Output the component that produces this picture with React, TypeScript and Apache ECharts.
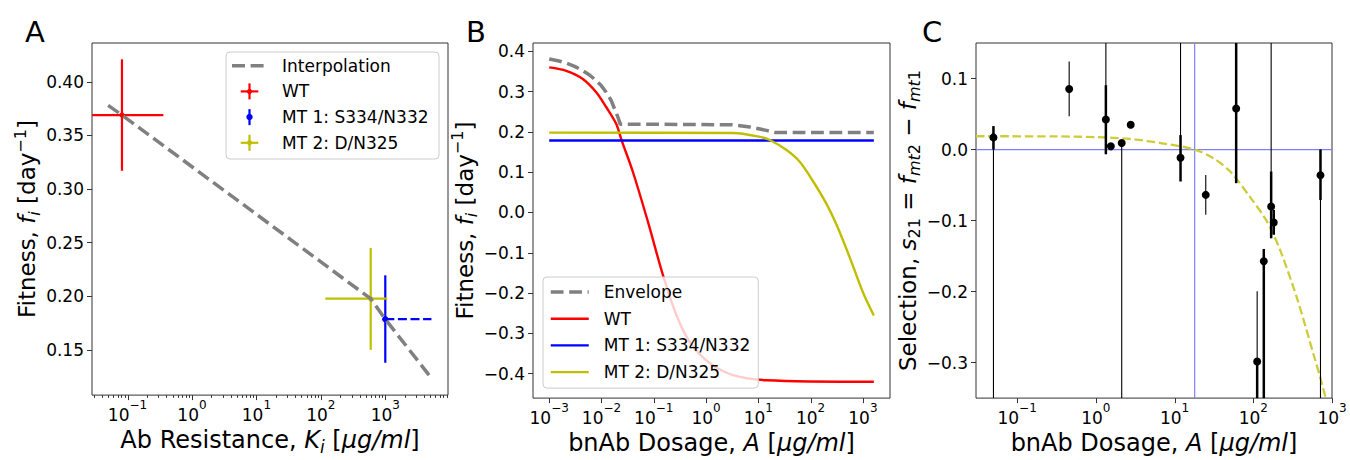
import React, { useEffect, useRef } from "react";
import * as echarts from "echarts";

const FONT = "DejaVu Sans";

// ---------------- Panel A data ----------------
const aNames = ["WT", "MT 1: S334/N332", "MT 2: D/N325"];
const aColors = ["#ff0000", "#0000ff", "#bfbf00"];
const aMarkerR = [2.6, 3.2, 2.6];
const aResistance = [0.082, 1000, 594];
const aFitness = [0.369, 0.1786, 0.1977];
const aResLow = [0.001, null, 117]; // WT lower error falls below the axis
const aResHigh = [0.36, null, 1075];
const aFitLow = [0.317, 0.138, 0.15];
const aFitHigh = [0.421, 0.2195, 0.245];
const aInterpRes = [0.05, 0.082, 594, 1000, 5300];
const aInterpFit = [0.378, 0.369, 0.1977, 0.1786, 0.123];
const aMt1BoundRes = [1000, 5200];
const aMt1BoundFit = [0.1786, 0.1786];
const aYTicks = [0.15, 0.2, 0.25, 0.3, 0.35, 0.4];
const aXTicks = [0.1, 1, 10, 100, 1000];

// ---------------- Panel B data ----------------
const bDoseEnv = [0.001, 0.001466, 0.00212, 0.00306, 0.0044, 0.00591, 0.00793, 0.00988, 0.0123, 0.01534, 0.01778, 0.0206, 0.0228, 3.2, 6.9, 14.3, 20.7, 1620];
const bFitEnv = [0.3811, 0.377, 0.3712, 0.363, 0.3523, 0.3416, 0.3276, 0.3152, 0.2988, 0.2782, 0.2576, 0.237, 0.2195, 0.218, 0.2123, 0.204, 0.199, 0.199];
const bDoseWT = [0.001, 0.00212, 0.0044, 0.00793, 0.0123, 0.0191, 0.0242, 0.0398, 0.077, 0.151, 0.273, 0.49, 1.1, 3.3, 14.3, 1620];
const bFitWT = [0.3605, 0.352, 0.3317, 0.2988, 0.262, 0.2205, 0.18, 0.1012, -0.0222, -0.157, -0.256, -0.322, -0.371, -0.404, -0.4165, -0.4205];
const bDoseMT1 = [0.001, 1620];
const bFitMT1 = [0.179, 0.179];
const bDoseMT2 = [0.001, 3.3, 10.7, 16.6, 34.6, 62, 112, 200, 312, 562, 1000, 1620];
const bFitMT2 = [0.1985, 0.1975, 0.188, 0.18, 0.155, 0.126, 0.077, 0.022, -0.03, -0.112, -0.198, -0.256];
const bYTicks = [-0.4, -0.3, -0.2, -0.1, 0, 0.1, 0.2, 0.3, 0.4];
const bXTicks = [0.001, 0.01, 0.1, 1, 10, 100, 1000];

// ---------------- Panel C data ----------------
const cDose = [0.05, 0.458, 1.34, 1.55, 2.13, 2.77, 11.9, 24.9, 60.6, 168.6, 182, 136, 112, 714];
const cSel = [0.0171, 0.0853, 0.0424, 0.0045, 0.0091, 0.0348, -0.0115, -0.0638, 0.0578, -0.0802, -0.1027, -0.1574, -0.2985, -0.0362];
const cThickLow = [0.0, null, -0.0067, null, null, null, -0.045, null, -0.0474, -0.125, -0.12, -0.6, -0.6, -0.071];
const cThickHigh = [0.033, null, 0.0905, null, null, null, 0.0203, null, 0.6, -0.031, -0.085, -0.14, -0.2985, 0.0];
const cThinLow = [-0.6, 0.047, 0.0424, null, -0.6, null, -0.0115, -0.092, null, -0.0802, null, null, -0.2985, -0.6];
const cThinHigh = [0.033, 0.124, 0.6, null, 0.0091, null, 0.6, -0.0358, null, 0.6, null, null, -0.1994, 0.0];
const cFitDose = [0.03, 0.3, 1, 2.76, 7.3, 18, 31.5, 51, 92.5, 136, 166, 222, 361, 588, 714, 840];
const cFitSel = [0.0187, 0.0185, 0.0175, 0.0148, 0.0084, 0.0, -0.0126, -0.031, -0.068, -0.094, -0.111, -0.143, -0.21, -0.29, -0.322, -0.352];
const cCrossDose = 18;
const cYTicks = [-0.3, -0.2, -0.1, 0, 0.1];
const cXTicks = [0.1, 1, 10, 100, 1000];

// ---------------- axis ranges ----------------
const aXMin = 0.0281, aXMax = 9400, aYMin = 0.1078, aYMax = 0.4362;
const bXMin = 0.00049, bXMax = 3300, bYMin = -0.461, bYMax = 0.421;
const cXMin = 0.03, cXMax = 1000, cYMin = -0.35, cYMax = 0.15;

const powLabel = (v: number) => {
  const e = Math.log10(v);
  const r = Math.round(e);
  if (Math.abs(e - r) > 1e-4) return "";
  return "{b|10}{s|" + String(r).replace("-", "\u2212") + "}";
};
const tickRich = {
  b: { fontSize: 17, fontFamily: FONT, color: "#000", lineHeight: 24, verticalAlign: "bottom" },
  s: { fontSize: 12, fontFamily: FONT, color: "#000", lineHeight: 13, verticalAlign: "top" },
};
const ok = (v: any) => v != null && !isNaN(v);

const nameRich = {
  t: { fontSize: 23, fontFamily: FONT, color: "#000", lineHeight: 30 },
  i: { fontSize: 23, fontFamily: FONT, fontStyle: "italic", color: "#000", lineHeight: 30 },
  sb: { fontSize: 16, fontFamily: FONT, fontStyle: "italic", color: "#000", verticalAlign: "bottom", lineHeight: 16 },
  sbn: { fontSize: 16, fontFamily: FONT, color: "#000", verticalAlign: "bottom", lineHeight: 16 },
  sp: { fontSize: 16, fontFamily: FONT, color: "#000", verticalAlign: "top", lineHeight: 16 },
};
const xNameRich = {
  t: { fontSize: 24, fontFamily: FONT, color: "#000", lineHeight: 30 },
  i: { fontSize: 24, fontFamily: FONT, fontStyle: "italic", color: "#000", lineHeight: 30 },
  sb: { fontSize: 17, fontFamily: FONT, fontStyle: "italic", color: "#000", verticalAlign: "bottom", lineHeight: 16 },
};

const FRAME = "#333333";

function xAxisLog(gi: number, min: number, max: number, name: string) {
  return {
    type: "log", logBase: 10, gridIndex: gi, min, max,
    name, nameLocation: "middle", nameGap: 24,
    nameTextStyle: { fontSize: 24, fontFamily: FONT, color: "#000", rich: xNameRich },
    axisLine: { show: false }, axisTick: { show: false },
    splitLine: { show: false }, minorTick: { show: false }, minorSplitLine: { show: false },
    axisLabel: { formatter: powLabel, rich: tickRich, fontSize: 17, fontFamily: FONT, color: "#000", margin: 4, showMinLabel: true, showMaxLabel: true },
  };
}
function yAxisVal(gi: number, min: number, max: number, ticks: number[], dec: number, name: string, gap: number) {
  return {
    type: "value", gridIndex: gi, min, max,
    name, nameLocation: "middle", nameGap: gap, nameRotate: 90,
    nameTextStyle: { fontSize: 23, fontFamily: FONT, color: "#000", rich: nameRich },
    axisLine: { show: false },
    axisTick: { show: true, inside: false, length: 5, customValues: ticks, lineStyle: { color: FRAME, width: 1 } },
    axisLabel: { customValues: ticks, formatter: (v: number) => v.toFixed(dec).replace("-", "\u2212"), fontSize: 17, fontFamily: FONT, color: "#000", margin: 8 },
    splitLine: { show: false },
  };
}

function tickSeries(name: string, idx: number, values: number[], yVal: number, len: number) {
  return {
    type: "custom", name, xAxisIndex: idx, yAxisIndex: idx, silent: true, z: 5,
    data: values.map((v) => [v, yVal]), encode: { x: 0, y: 1 },
    renderItem: (params: any, api: any) => {
      const cs = params.coordSys;
      const p = api.coord([api.value(0), api.value(1)]);
      const x = Math.round(p[0]) + 0.5;
      const yb = cs.y + cs.height;
      return { type: "line", shape: { x1: x, y1: yb, x2: x, y2: yb + len }, style: { stroke: FRAME, lineWidth: 1 } };
    },
  };
}

function buildOption() {
  const minorTicksA: number[] = [];
  for (let e = -2; e <= 3; e++) for (let m = 2; m <= 9; m++) {
    const v = m * Math.pow(10, e);
    if (v > aXMin && v < aXMax) minorTicksA.push(v);
  }

  const aErr = {
    type: "custom", name: "A error bars", xAxisIndex: 0, yAxisIndex: 0, silent: true, z: 2,
    data: aNames.map((_, i) => [aResistance[i], aFitness[i], aResLow[i], aResHigh[i], aFitLow[i], aFitHigh[i], i]),
    encode: { x: 0, y: 1 },
    renderItem: (params: any, api: any) => {
      const cs = params.coordSys;
      const cx = (v: number) => Math.max(cs.x, Math.min(cs.x + cs.width, v));
      const i = api.value(6);
      const color = aColors[i];
      const x = api.value(0), y = api.value(1);
      const c = api.coord([x, y]);
      const children: any[] = [];
      const xl = api.value(2), xh = api.value(3), yl = api.value(4), yh = api.value(5);
      if (ok(xl) && ok(xh)) {
        const p1 = api.coord([xl, y]), p2 = api.coord([xh, y]);
        children.push({ type: "line", shape: { x1: cx(p1[0]), y1: c[1], x2: cx(p2[0]), y2: c[1] }, style: { stroke: color, lineWidth: 2.2 } });
      }
      if (ok(yl) && ok(yh)) {
        const p1 = api.coord([x, yl]), p2 = api.coord([x, yh]);
        children.push({ type: "line", shape: { x1: c[0], y1: p1[1], x2: c[0], y2: p2[1] }, style: { stroke: color, lineWidth: 2.2 } });
      }
      children.push({ type: "circle", shape: { cx: c[0], cy: c[1], r: aMarkerR[i] }, style: { fill: color } });
      return { type: "group", children };
    },
  };

  const cErr = {
    type: "custom", name: "C error bars", xAxisIndex: 2, yAxisIndex: 2, silent: true, z: 4,
    data: cDose.map((d, i) => [d, cSel[i], cThickLow[i], cThickHigh[i], cThinLow[i], cThinHigh[i]]),
    encode: { x: 0, y: 1 },
    renderItem: (params: any, api: any) => {
      const cs = params.coordSys;
      const cy = (v: number) => Math.max(cs.y, Math.min(cs.y + cs.height, v));
      const x = api.value(0), y = api.value(1);
      const c = api.coord([x, y]);
      const children: any[] = [];
      const seg = (lo: number, hi: number, w: number) => {
        if (!ok(lo) || !ok(hi)) return;
        const p1 = api.coord([x, lo]), p2 = api.coord([x, hi]);
        children.push({ type: "line", shape: { x1: c[0], y1: cy(p1[1]), x2: c[0], y2: cy(p2[1]) }, style: { stroke: "#000", lineWidth: w } });
      };
      seg(api.value(4), api.value(5), 1.1);
      seg(api.value(2), api.value(3), 2.5);
      children.push({ type: "circle", shape: { cx: c[0], cy: c[1], r: 4 }, style: { fill: "#000" } });
      return { type: "group", children };
    },
  };

  const pairs = (xs: number[], ys: number[]) => xs.map((x, i) => [x, ys[i]]);

  // Legend for panel A drawn as graphic (error-bar handles)
  const legX = 226, legY = 52, rowY0 = 65.7, rowStep = 25.7;
  const aLegend: any[] = [
    { type: "rect", shape: { x: legX, y: legY, width: 213, height: 107, r: 4 }, style: { fill: "rgba(255,255,255,0.8)", stroke: "#cccccc", lineWidth: 1 }, z: 100 },
    { type: "line", shape: { x1: 232, y1: rowY0, x2: 264, y2: rowY0 }, style: { stroke: "#808080", lineWidth: 3.5, lineDash: [13, 5.6] }, z: 101 },
  ];
  const legTexts = ["Interpolation", ...aNames];
  legTexts.forEach((t, k) => {
    aLegend.push({ type: "text", x: 282, y: rowY0 + k * rowStep, style: { text: t, fontSize: 17, fontFamily: FONT, fill: "#000", align: "left", verticalAlign: "middle" }, z: 101 });
  });
  aNames.forEach((_, i) => {
    const yy = rowY0 + (i + 1) * rowStep;
    const col = aColors[i];
    if (i !== 1) aLegend.push({ type: "line", shape: { x1: 240.7, y1: yy, x2: 258.3, y2: yy }, style: { stroke: col, lineWidth: 2.2 }, z: 101 });
    aLegend.push({ type: "line", shape: { x1: 249.5, y1: yy - 8, x2: 249.5, y2: yy + 8 }, style: { stroke: col, lineWidth: 2.2 }, z: 101 });
    aLegend.push({ type: "circle", shape: { cx: 249.5, cy: yy, r: aMarkerR[i] }, style: { fill: col }, z: 101 });
  });

  const letters = [
    { type: "text", x: 35, y: 32, style: { text: "A", fontSize: 29, fontFamily: FONT, fill: "#000", align: "center", verticalAlign: "middle" } },
    { type: "text", x: 476, y: 32, style: { text: "B", fontSize: 29, fontFamily: FONT, fill: "#000", align: "center", verticalAlign: "middle" } },
    { type: "text", x: 932, y: 32, style: { text: "C", fontSize: 29, fontFamily: FONT, fill: "#000", align: "center", verticalAlign: "middle" } },
  ];

  return {
    animation: false,
    backgroundColor: "#ffffff",
    textStyle: { fontFamily: FONT },
    grid: [
      { left: 92, top: 43, width: 356, height: 357, show: true, borderColor: FRAME, borderWidth: 1, backgroundColor: "transparent" },
      { left: 533, top: 43, width: 357, height: 357, show: true, borderColor: FRAME, borderWidth: 1, backgroundColor: "transparent" },
      { left: 976, top: 43, width: 356, height: 357, show: true, borderColor: FRAME, borderWidth: 1, backgroundColor: "transparent" },
    ],
    xAxis: [
      xAxisLog(0, aXMin, aXMax, "{t|Ab Resistance, }{i|K}{sb|i}{t| [}{i|μg/ml}{t|]}"),
      xAxisLog(1, bXMin, bXMax, "{t|bnAb Dosage, }{i|A}{t| [}{i|μg/ml}{t|]}"),
      xAxisLog(2, cXMin, cXMax, "{t|bnAb Dosage, }{i|A}{t| [}{i|μg/ml}{t|]}"),
    ],
    yAxis: [
      yAxisVal(0, aYMin, aYMax, aYTicks, 2, "{t|Fitness, }{i|f}{sb|i}{t| [day}{sp|\u22121}{t|]}", 50),
      yAxisVal(1, bYMin, bYMax, bYTicks, 1, "{t|Fitness, }{i|f}{sb|i}{t| [day}{sp|\u22121}{t|]}", 50),
      yAxisVal(2, cYMin, cYMax, cYTicks, 1, "{t|Selection, }{i|s}{sbn|21}{t| = }{i|f}{sb|mt}{sbn|2}{t| \u2212 }{i|f}{sb|mt}{sbn|1}", 52),
    ],
    legend: {
      data: ["Envelope", "WT", "MT 1: S334/N332", "MT 2: D/N325"],
      orient: "vertical", left: 543, top: 277,
      itemWidth: 38, itemHeight: 14, itemGap: 6.7,
      padding: [5, 8, 6, 6],
      backgroundColor: "rgba(255,255,255,0.8)", borderColor: "#cccccc", borderWidth: 1, borderRadius: 4,
      itemStyle: { opacity: 0 },
      lineStyle: { width: "inherit", type: "inherit", color: "inherit" },
      textStyle: { fontSize: 17, fontFamily: FONT, color: "#000", lineHeight: 20, padding: [0, 0, 0, 10] },
      selectedMode: false,
    },
    graphic: [...aLegend, ...letters],
    series: [
      // Panel A
      aErr,
      { type: "line", name: "A MT1 bound", xAxisIndex: 0, yAxisIndex: 0, data: pairs(aMt1BoundRes, aMt1BoundFit), symbol: "none", silent: true, z: 2,
        lineStyle: { color: "#0000ff", width: 2.2, type: [9, 3.6] } },
      { type: "line", name: "Interpolation", xAxisIndex: 0, yAxisIndex: 0, data: pairs(aInterpRes, aInterpFit), symbol: "none", silent: true, z: 3,
        lineStyle: { color: "#808080", width: 3.5, type: [13, 5.6] } },
      tickSeries("A major ticks", 0, aXTicks, aYMin, 5),
      tickSeries("A minor ticks", 0, minorTicksA, aYMin, 2.8),
      // Panel B
      { type: "line", name: "Envelope", xAxisIndex: 1, yAxisIndex: 1, data: pairs(bDoseEnv, bFitEnv), symbol: "none", silent: true, z: 2,
        lineStyle: { color: "#808080", width: 3.5, type: [12.8, 5.6] }, itemStyle: { color: "#808080" } },
      { type: "line", name: "WT", xAxisIndex: 1, yAxisIndex: 1, data: pairs(bDoseWT, bFitWT), symbol: "none", silent: true, z: 2,
        smooth: 0.3, lineStyle: { color: "#ff0000", width: 2.4, join: "round" }, itemStyle: { color: "#ff0000" } },
      { type: "line", name: "MT 1: S334/N332", xAxisIndex: 1, yAxisIndex: 1, data: pairs(bDoseMT1, bFitMT1), symbol: "none", silent: true, z: 2,
        lineStyle: { color: "#0000ff", width: 2.4 }, itemStyle: { color: "#0000ff" } },
      { type: "line", name: "MT 2: D/N325", xAxisIndex: 1, yAxisIndex: 1, data: pairs(bDoseMT2, bFitMT2), symbol: "none", silent: true, z: 2,
        smooth: 0.3, lineStyle: { color: "#bfbf00", width: 2.4, join: "round" }, itemStyle: { color: "#bfbf00" } },
      tickSeries("B major ticks", 1, bXTicks, bYMin, 5),
      // Panel C
      { type: "line", name: "C zero", xAxisIndex: 2, yAxisIndex: 2, data: [[cXMin, 0], [cXMax, 0]], symbol: "none", silent: true, z: 1,
        lineStyle: { color: "#7f7fff", width: 1.2 } },
      { type: "line", name: "C crossover", xAxisIndex: 2, yAxisIndex: 2, data: [[cCrossDose, cYMin], [cCrossDose, cYMax]], symbol: "none", silent: true, z: 1,
        lineStyle: { color: "#7f7fff", width: 1.2 } },
      { type: "line", name: "C fit", xAxisIndex: 2, yAxisIndex: 2, data: pairs(cFitDose, cFitSel), symbol: "none", silent: true, z: 2,
        smooth: 0.3, lineStyle: { color: "#cdcd3c", width: 2.3, type: [8.5, 3.7] } },
      cErr,
      tickSeries("C major ticks", 2, cXTicks, cYMin, 5),
    ],
  };
}

export default function App() {
  const ref = useRef<HTMLDivElement>(null);
  useEffect(() => {
    if (!ref.current) return;
    const chart = echarts.init(ref.current, null, { renderer: "svg" });
    chart.setOption(buildOption() as any);
    return () => chart.dispose();
  }, []);
  return <div ref={ref} style={{ position: "fixed", left: 0, top: 0, width: 1350, height: 460, background: "#fff" }} />;
}
